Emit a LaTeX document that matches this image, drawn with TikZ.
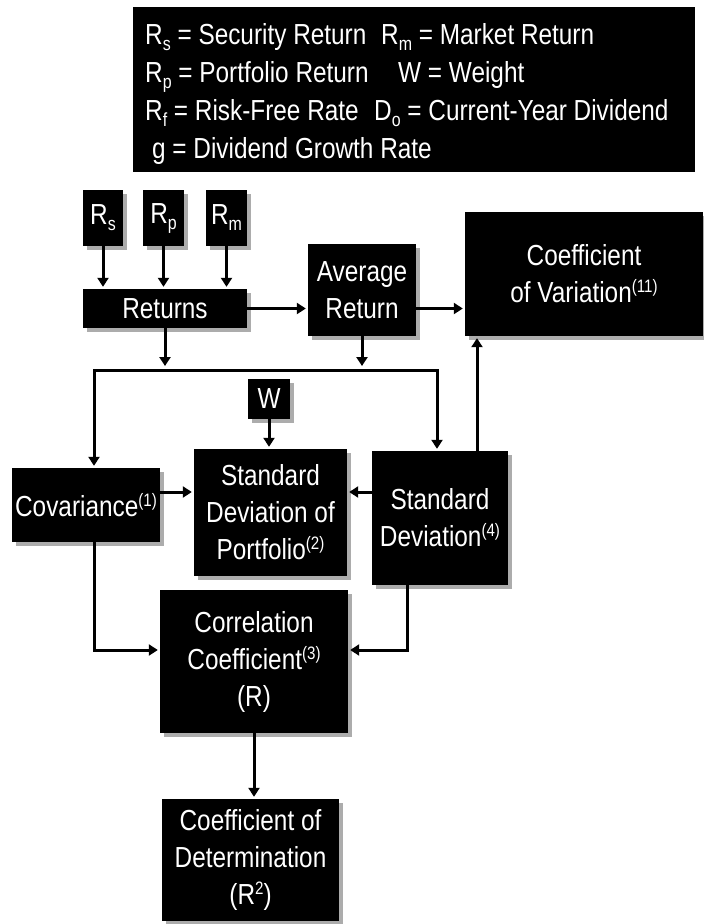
\documentclass[tikz,border=0pt]{standalone}
\usepackage{fontspec}
\setmainfont[FakeStretch=0.84]{Liberation Sans}
\usetikzlibrary{arrows.meta,shadows}
\newcommand{\sbs}[1]{\raisebox{-6pt}{\fontsize{19}{19}\selectfont #1}}
\newcommand{\sps}[1]{\raisebox{10pt}{\fontsize{18}{18}\selectfont #1}}
\begin{document}
\begin{tikzpicture}[x=1pt,y=-1pt,
  bx/.style={fill=black,text=white,inner sep=0pt,align=center,
    font=\fontsize{29}{37}\selectfont,
    drop shadow={shadow xshift=4pt,shadow yshift=-4pt,fill=gray!65,opacity=1}},
  lg/.style={text=white,inner sep=0pt,anchor=base west,font=\fontsize{29}{37}\selectfont},
  ln/.style={line width=3pt},
  arr/.style={ln,-{Triangle[length=9pt,width=11pt]},shorten >=2pt},
  arrj/.style={ln,-{Triangle[length=9pt,width=11pt]},shorten >=4pt}]
\fill[white] (0,0) rectangle (704,924);
\useasboundingbox (0,0) rectangle (704,924);

% legend
\node[fill=black,minimum width=562pt,minimum height=165pt,inner sep=0pt] (legend) at (414,89.5) {};
\node[lg] (l1a) at (145,44) {R\sbs{s} = Security Return};
\node[lg] (l1b) at (381,44) {R\sbs{m} = Market Return};
\node[lg] (l2a) at (145,82) {R\sbs{p} = Portfolio Return};
\node[lg] (l2b) at (398,82) {W = Weight};
\node[lg] (l3a) at (145,120) {R\sbs{f} = Risk-Free Rate};
\node[lg] (l3b) at (374,120) {D\sbs{o} = Current-Year Dividend};
\node[lg] (l4a) at (152,158) {g = Dividend Growth Rate};

% boxes
\node[bx,minimum width=40pt,minimum height=56pt] (rs) at (103,218) {R\sbs{s}};
\node[bx,minimum width=41pt,minimum height=56pt] (rp) at (163.5,218) {R\sbs{p}};
\node[bx,minimum width=41pt,minimum height=56pt] (rm) at (226.5,218) {R\sbs{m}};
\node[bx,minimum width=164pt,minimum height=39pt] (ret) at (165,308.5) {Returns};
\node[bx,minimum width=108pt,minimum height=92pt] (avg) at (362,290) {Average\\Return};
\node[bx,minimum width=238pt,minimum height=124pt] (cv) at (584,274) {Coefficient\\of Variation\sps{(11)}};
\node[bx,minimum width=42pt,minimum height=40pt] (w) at (269,399) {W};
\node[bx,minimum width=148pt,minimum height=74pt] (cov) at (86,505) {Covariance\sps{(1)}};
\node[bx,minimum width=153pt,minimum height=127pt] (sdp) at (270.5,512.5) {Standard\\Deviation of\\Portfolio\sps{(2)}};
\node[bx,minimum width=136pt,minimum height=134pt] (sd) at (440,518) {Standard\\Deviation\sps{(4)}};
\node[bx,minimum width=188pt,minimum height=143pt] (corr) at (254,661.5) {Correlation\\Coefficient\sps{(3)}\\(R)};
\node[bx,minimum width=177pt,minimum height=122pt] (cod) at (250.5,860) {Coefficient of\\Determination\\(R\sps{2})};

% junction coordinates
\coordinate (hL) at (94,370);
\coordinate (hR) at (437,370);
\coordinate (ySD) at (270,492);
\coordinate (vx) at (477,400);
\coordinate (cjR) at (407,650);
\coordinate (cjL) at (94,650);

% connectors
\draw[arr] (rs.south) -- (rs.south |- ret.north);
\draw[arr] (rp.south) -- (rp.south |- ret.north);
\draw[arr] (rm.south) -- (rm.south |- ret.north);
\draw[arr] (ret.east) -- (ret.east -| avg.west);
\draw[arr] (avg.east |- ret.east) -- (cv.west |- ret.east);
\draw[arrj] (ret.south) -- (ret.south |- hL);
\draw[arrj] (avg.south) -- (avg.south |- hL);
\draw[arr] (hR) -- (hL) -- (hL |- cov.north);
\draw[arr] (hL) -- (hR) -- (hR |- sd.north);
\draw[arr] (w.south) -- (w.south |- sdp.north);
\draw[arr] (cov.east |- ySD) -- (sdp.west |- ySD);
\draw[arr] (sd.west |- ySD) -- (sdp.east |- ySD);
\draw[arr] (sd.north -| vx) -- (cv.south -| vx);
\draw[arr] (sd.south -| cjR) -- (cjR) -- (corr.east |- cjR);
\draw[arr] (cov.south -| cjL) -- (cjL) -- (corr.west |- cjL);
\draw[arr] (corr.south) -- (corr.south |- cod.north);
\end{tikzpicture}
\end{document}
